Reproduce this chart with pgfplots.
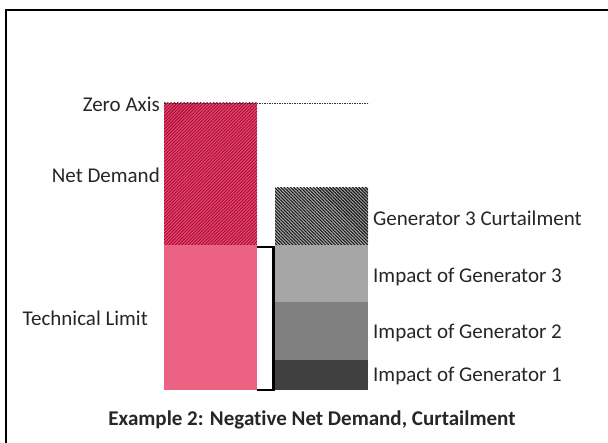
\documentclass[border=0pt]{standalone}
\usepackage{pgfplots}
\pgfplotsset{compat=1.18}
\usepackage{fontspec}
\setmainfont[Ligatures={NoCommon}]{Carlito}
\usetikzlibrary{patterns.meta}
\definecolor{pinkA}{RGB}{236,98,131}
\definecolor{pinkH}{RGB}{232,72,112}
\definecolor{redH}{RGB}{165,10,48}
\definecolor{gThree}{RGB}{166,166,166}
\definecolor{gTwo}{RGB}{128,128,128}
\definecolor{gOne}{RGB}{64,64,64}
\definecolor{gCurt}{RGB}{175,175,175}
\tikzset{lbl/.style={font=\fontsize{21bp}{25bp}\selectfont, text=black!85}}
\begin{document}
\begin{tikzpicture}
\begin{axis}[
  name=ax,
  scale only axis, width=608bp, height=443bp,
  xmin=0, xmax=608, ymin=-340, ymax=103,
  hide axis, clip=false,
]
% frame (top and left)
\addplot[black, line width=2.2bp] coordinates {(6,93) (608,93)};
\addplot[black, line width=2.2bp] coordinates {(6,93.5) (6,-340)};
% Net demand (hatched) and technical limit (solid)
\addplot[draw=none, fill=pinkH, postaction={pattern={Lines[angle=45, distance=2.3bp, line width=0.9bp]}, pattern color=redH}] coordinates {(164,0) (257,0) (257,-142) (164,-142)} -- cycle;
\addplot[draw=none, fill=pinkA] coordinates {(164,-142) (257,-142) (257,-287) (164,-287)} -- cycle;
% right stack
\addplot[draw=none, fill=gCurt, postaction={pattern={Lines[angle=-45, distance=2.3bp, line width=1.1bp]}, pattern color=black!90}] coordinates {(275,-85) (368,-85) (368,-142) (275,-142)} -- cycle;
\addplot[draw=none, fill=gThree] coordinates {(275,-142) (368,-142) (368,-199) (275,-199)} -- cycle;
\addplot[draw=none, fill=gTwo] coordinates {(275,-199) (368,-199) (368,-257) (275,-257)} -- cycle;
\addplot[draw=none, fill=gOne] coordinates {(275,-257) (368,-257) (368,-287) (275,-287)} -- cycle;
% zero axis dotted line
\addplot[black!80, dash pattern=on 1.5bp off 1bp, line width=1.2bp] coordinates {(164,-0.5) (369,-0.5)};
% bracket
\addplot[black, line width=2.6bp] coordinates {(257,-144) (273.5,-144) (273.5,-287) (257,-287)};
% labels
\node[lbl,anchor=base east,inner sep=0pt] at (axis cs:160,-9) {Zero Axis};
\node[lbl,anchor=base east,inner sep=0pt] at (axis cs:160,-80) {Net Demand};
\node[lbl,anchor=base west,inner sep=0pt] at (axis cs:22.5,-223) {Technical Limit};
\node[lbl,anchor=base west,inner sep=0pt] at (axis cs:373,-123) {Generator 3 Curtailment};
\node[lbl,anchor=base west,inner sep=0pt] at (axis cs:373,-180) {Impact of Generator 3};
\node[lbl,anchor=base west,inner sep=0pt] at (axis cs:373,-236) {Impact of Generator 2};
\node[lbl,anchor=base west,inner sep=0pt] at (axis cs:373,-279) {Impact of Generator 1};
\node[lbl,anchor=base,inner sep=0pt,font=\fontsize{21bp}{25bp}\selectfont\bfseries] at (axis cs:312,-322) {Example 2: Negative Net Demand, Curtailment};
\end{axis}
\pgfresetboundingbox
\path (ax.south west) rectangle (ax.north east);
\end{tikzpicture}
\end{document}
